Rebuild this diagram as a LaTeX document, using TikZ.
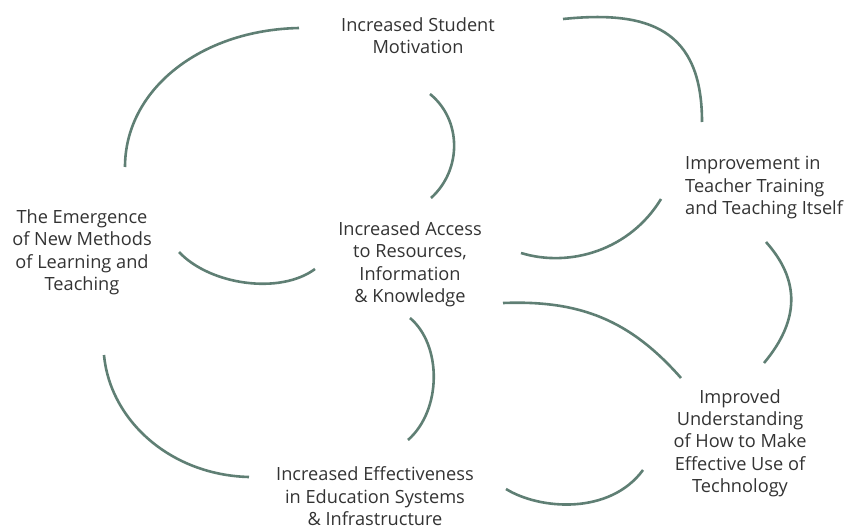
\documentclass[tikz,border=0pt]{standalone}
\usepackage{fontspec}
\setmainfont{Open Sans}
\definecolor{arcgreen}{HTML}{5F7F74}
\definecolor{txtgray}{HTML}{333333}
\begin{document}
\begin{tikzpicture}[x=1pt,y=-1pt,
  lbl/.style={inner sep=0pt, align=center, text=txtgray, font=\fontsize{18.2}{22.3}\selectfont},
  arc/.style={draw=arcgreen, line width=2.6pt}]
\useasboundingbox (0,0) rectangle (851,530);
% text nodes (anchor base = baseline of last line)
\node[lbl, anchor=base] (mot) at (418,53.5) {Increased Student\\Motivation};
\node[lbl, anchor=base] (emg) at (82,290.5) {The Emergence\\of New Methods\\of Learning and\\Teaching};
\node[lbl, anchor=base] (acc) at (410,302.5) {Increased Access\\to Resources,\\Information\\\& Knowledge};
\node[lbl, anchor=base west, align=left] (imp) at (685,214.5) {Improvement in\\Teacher Training\\and Teaching Itself};
\node[lbl, anchor=base] (und) at (740,492.5) {Improved\\Understanding\\of How to Make\\Effective Use of\\Technology};
\node[lbl, anchor=base] (eff) at (375,525.5) {Increased Effectiveness\\in Education Systems\\\& Infrastructure};
% arc end points
\coordinate (a1s) at (125,167); \coordinate (a1e) at (299,28);
\coordinate (a2s) at (563,19);  \coordinate (a2e) at (702,122);
\coordinate (a3s) at (430,94);  \coordinate (a3e) at (431,198);
\coordinate (a4s) at (179,252); \coordinate (a4e) at (315,269);
\coordinate (a5s) at (521,253); \coordinate (a5e) at (661,199);
\coordinate (a6s) at (766,242); \coordinate (a6e) at (764,363);
\coordinate (a7s) at (503,303); \coordinate (a7e) at (681,378);
\coordinate (a8s) at (506,489); \coordinate (a8e) at (643,470);
\coordinate (a9s) at (410,318); \coordinate (a9e) at (408,440);
\coordinate (a10s) at (104,355); \coordinate (a10e) at (249,477);
% arcs
\path[arc] (a1s) .. controls (125,90) and (200,30) .. (a1e);
\path[arc] (a2s) .. controls (650,10) and (702,30) .. (a2e);
\path[arc] (a3s) .. controls (462,120) and (462,170) .. (a3e);
\path[arc] (a4s) .. controls (210,285) and (280,295) .. (a4e);
\path[arc] (a5s) .. controls (570,268) and (630,250) .. (a5e);
\path[arc] (a6s) .. controls (800,280) and (800,320) .. (a6e);
\path[arc] (a7s) .. controls (580,300) and (630,320) .. (a7e);
\path[arc] (a8s) .. controls (540,510) and (610,515) .. (a8e);
\path[arc] (a9s) .. controls (442,345) and (442,410) .. (a9e);
\path[arc] (a10s) .. controls (110,420) and (170,475) .. (a10e);
\end{tikzpicture}
\end{document}
